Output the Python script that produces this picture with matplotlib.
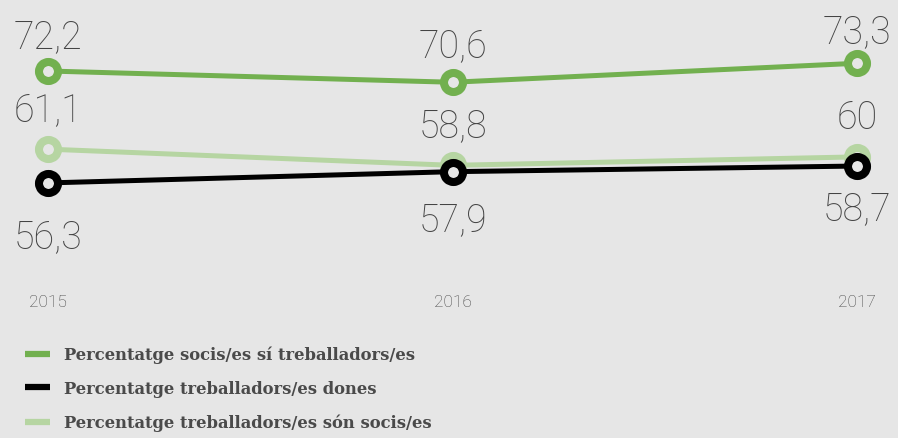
import matplotlib.pyplot as plt
from matplotlib.lines import Line2D

# data
years = [2015, 2016, 2017]
socis_treb = [72.2, 70.6, 73.3]
treb_dones = [56.3, 57.9, 58.7]
treb_socis = [61.1, 58.8, 60.0]
names = ['Percentatge socis/es sí treballadors/es',
         'Percentatge treballadors/es dones',
         'Percentatge treballadors/es són socis/es']

bg = '#e6e6e6'
green = '#72b04f'
light = '#b6d5a2'
black = '#000000'
txt = '#4a4a4a'

fig = plt.figure(figsize=(8.98, 4.39), dpi=100, facecolor=bg)
ax = fig.add_axes([0, 151 / 439, 1, 288 / 439], facecolor=bg)

def label(v):
    s = f'{v:.1f}'.replace('.', ',')
    return s[:-2] if s.endswith(',0') else s

series = [
    (treb_socis, light, [40, 40, 40], 1),
    (treb_dones, black, [-53, -48, -42], 2),
    (socis_treb, green, [35, 37, 32], 3),
]
for vals, col, offs, z in series:
    ax.plot(years, vals, color=col, lw=3.6, marker='o', ms=13.7,
            mec=col, mfc=bg, mew=5.8, zorder=z, solid_capstyle='butt')
    for x, v, o in zip(years, vals, offs):
        ax.annotate(label(v), (x, v), xytext=(0, o * 0.72), textcoords='offset points',
                    ha='center', va='center', fontsize=27, family='Roboto',
                    fontweight='light', color='#444444', zorder=5)

ax.set_xlim(2015 - 48 / 404.5, 2017 + 41 / 404.5)
ax.set_ylim(72.2 - 216 / 7.04, 72.2 + 72 / 7.04)
ax.set_xticks(years)
ax.set_xticklabels([str(y) for y in years], family='Roboto', fontweight='light',
                   fontsize=12.5, color='#444444')
ax.tick_params(axis='x', length=0, pad=5)
ax.set_yticks([])
for s in ax.spines.values():
    s.set_visible(False)

handles = [Line2D([], [], color=c, lw=4.5, solid_capstyle='butt')
           for c in (green, black, light)]
leg = fig.legend(handles, names, loc='upper left', bbox_to_anchor=(25 / 898, 1 - 347 / 439),
                 frameon=False, borderpad=0, borderaxespad=0, handlelength=1.55,
                 handletextpad=0.82, labelspacing=1.02,
                 prop={'family': 'DejaVu Serif', 'weight': 'bold', 'size': 11.8})
for t in leg.get_texts():
    t.set_color(txt)

fig.savefig('out.png', dpi=100, facecolor=bg)
